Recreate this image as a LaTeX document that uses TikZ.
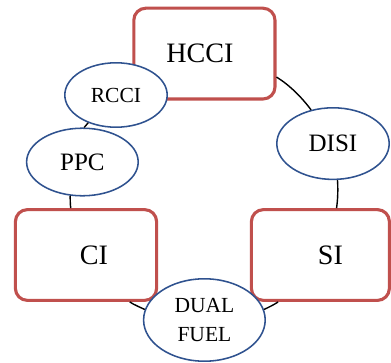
\documentclass[tikz,border=0pt]{standalone}
\usepackage{fontspec}
\setmainfont{Liberation Serif}
\usetikzlibrary{shapes.geometric}

\definecolor{modeRed}{HTML}{C0504D}
\definecolor{modeBlue}{HTML}{2F528F}

\tikzset{
  modeBox/.style={draw=modeRed, line width=2.2pt, rounded corners=0.3cm, fill=white,
    minimum width=3.53cm, minimum height=2.27cm, font=\fontsize{20}{24}\selectfont},
  modeOval/.style={ellipse, draw=modeBlue, line width=1.1pt, fill=white,
    inner sep=0pt, align=center},
  link/.style={line width=1pt, looseness=0.85}
}

\begin{document}
\begin{tikzpicture}

\useasboundingbox (0,0) rectangle (9.775,9.05);

%--------------------
% Main modes (red boxes)
%--------------------
\node[modeBox] (hcci) at (5.11,7.71) {HCCI\hspace*{0.22cm}};
\node[modeBox] (ci) at (2.15,2.675) {\hspace*{0.4cm}CI};
\node[modeBox, minimum width=3.45cm] (si) at (8.01,2.675) {\hspace*{0.5cm}SI};

%--------------------
% Strategies (blue ovals), drawn over the boxes
%--------------------
\node[modeOval, minimum width=2.56cm, minimum height=1.61cm,
  font=\fontsize{15.3}{18}\selectfont] (rcci) at (2.9,6.675) {RCCI};
\node[modeOval, minimum width=2.79cm, minimum height=1.69cm,
  font=\fontsize{17.8}{21}\selectfont] (ppc) at (2.06,5.0) {PPC};
\node[modeOval, minimum width=2.81cm, minimum height=1.79cm,
  font=\fontsize{17.8}{21}\selectfont] (disi) at (8.325,5.46) {DISI};
\node[modeOval, minimum width=3.04cm, minimum height=2.06cm,
  font=\fontsize{15.3}{20.6}\selectfont] (dual) at (5.11,1.05) {DUAL\\FUEL};

%--------------------
% Ring links (arcs of one circle)
%--------------------
\draw[link] (hcci.-18) to[out=-32, in=127] (disi.123);
\draw[link] (disi.-83) to[out=-86, in=82] (si.71);
\draw[link] (si.228) to[out=-146, in=26] (dual.10);
\draw[link] (dual.170) to[out=154, in=-34] (ci.-47);
\draw[link] (ci.108) to[out=98, in=-88] (ppc.250);
\draw[link] (ppc.87) to[out=63, in=240] (rcci.225);

\end{tikzpicture}
\end{document}
